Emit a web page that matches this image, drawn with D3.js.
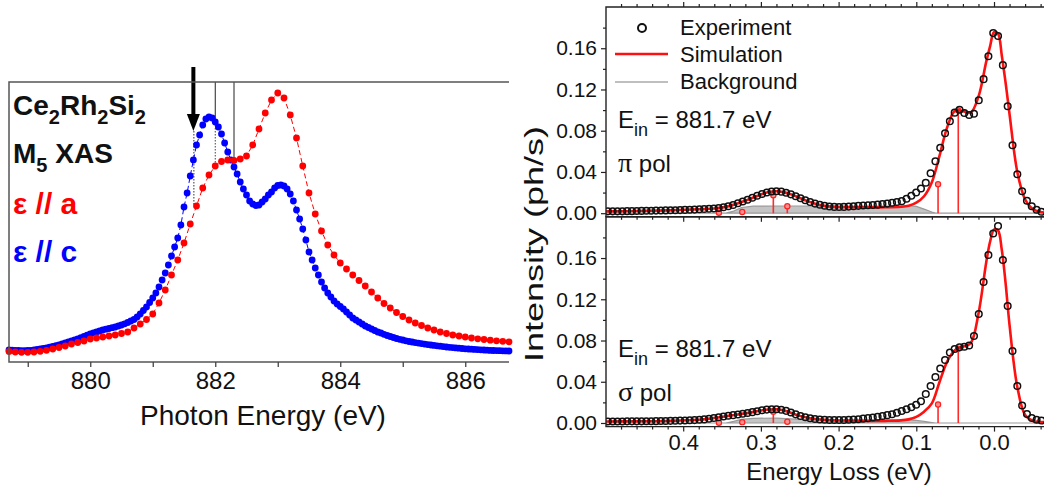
<!DOCTYPE html>
<html><head><meta charset="utf-8">
<script src="https://cdn.jsdelivr.net/npm/d3@7"></script>
<style>body{margin:0;background:#fff}svg{display:block}text{font-family:"Liberation Sans",Arial,sans-serif}</style>
</head><body><svg id="c" width="1044" height="492"></svg>
<script>
// ---------- Left panel: M5 XAS (arb. units) ----------
const xasStart = 878.7;
const blueStep = 0.05, redStep = 0.1;
// epsilon // c  (blue), 878.70 ... 886.70 step 0.05
const xasC = [
 1,0.8,0.6,0.5,0.4,0.4,0.5,0.7,1,1.5, 2,2.5,3,3.8,4.7,5.4,6,7,8,9,
 10,11,12.2,13.4,14.5,15.8,17,18,19,20, 21,21.8,22.5,23.3,24,25,26,27.2,28.5,30,
 31.5,34,37,40.5,44,48.5,53,58,64,71, 78,86,95,104,113,126,144,158,175,191,
 206,216,226,232,234,233,229,224,217,208, 199,191,184,177,169,162,156,150,147,145.5,
 146,149,152,156,159,163,165.5,166,165,162, 157,150,141,132,122,111,99,91,83,76,
 69,63,58,54,50,47,44.5,42,39,36, 33,31,29,27,25,23.5,22,20.5,19,18,
 16.7,15.5,14.5,13.5,12.5,11.7,11,10.2,9.5,9, 8.4,7.9,7.4,6.9,6.4,6,5.6,5.2,4.8,4.4,
 4,3.7,3.4,3.1,2.8,2.5,2.2,2,1.8,1.6, 1.4,1.2,1,0.8,0.6,0.5,0.4,0.3,0.2,0.1,
 0
];
// epsilon // a  (red), 878.7 ... 886.7 step 0.1
const xasA = [
 -0.5,-1,-1.3,-1.3,-1,-0.3,0.7,2,3.5,5,
 7,8.5,10,12,13,14,15,16,17.5,19,
 23,27,31.5,37,48,61,76,91,108,127,
 145,163,176,185,189.5,191,190.5,192,195,206,
 222,238,251,258,253,236,213,185,158,137,
 120,106,96,88,82,76,70.5,65,59,53,
 47.5,43,38.5,34.5,31,28,25.5,23,21,19,
 17.5,16,15,14,13,12.2,11.5,10.8,10.2,9.7,
 9.2
];
const xasMajorTicks = [880, 882, 884, 886];
const xasMinorTicks = [879, 881, 883, 885];
const arrowEnergy = 881.65;
const lineEnergies = [882.0, 882.3];

// ---------- Right panels: RIXS ----------
const expLossStart = 0.497, expLossStep = 0.0062;
const expPi = [
 0.0018,0.0018,0.0018,0.0018,0.0020,0.0020,0.0021,0.0022,0.0023,0.0024,
 0.0025,0.0026,0.0027,0.0028,0.0029,0.0030,0.0032,0.0033,0.0035,0.0038,
 0.0040,0.0043,0.0046,0.0050,0.0057,0.0067,0.0080,0.0096,0.0113,0.0130,
 0.0150,0.0169,0.0186,0.0201,0.0211,0.0213,0.0209,0.0198,0.0183,0.0164,
 0.0145,0.0125,0.0108,0.0093,0.0082,0.0072,0.0065,0.0061,0.0060,0.0061,
 0.0064,0.0067,0.0071,0.0074,0.0077,0.0080,0.0083,0.0089,0.0093,0.0101,
 0.0108,0.0117,0.0140,0.0169,0.0200,0.0239,0.0295,0.0387,0.0504,0.0635,
 0.0776,0.0892,0.0975,0.1004,0.0972,0.0952,0.0965,0.1096,0.1300,0.1523,
 0.1747,0.1718,0.1436,0.1038,0.0659,0.0378,0.0213,0.0120,0.0067,0.0033,
 0.0014
];
const expSigma = [
 0.0015,0.0015,0.0015,0.0015,0.0016,0.0016,0.0016,0.0016,0.0017,0.0017,
 0.0018,0.0019,0.0020,0.0021,0.0022,0.0023,0.0024,0.0026,0.0028,0.0031,
 0.0035,0.0041,0.0048,0.0056,0.0063,0.0070,0.0076,0.0082,0.0089,0.0097,
 0.0105,0.0114,0.0124,0.0130,0.0133,0.0133,0.0129,0.0118,0.0102,0.0084,
 0.0068,0.0055,0.0046,0.0039,0.0034,0.0031,0.0029,0.0029,0.0029,0.0029,
 0.0031,0.0034,0.0037,0.0042,0.0047,0.0053,0.0060,0.0068,0.0076,0.0085,
 0.0100,0.0116,0.0133,0.0153,0.0177,0.0211,0.0281,0.0359,0.0446,0.0529,
 0.0611,0.0684,0.0718,0.0735,0.0740,0.0752,0.0844,0.1057,0.1368,0.1629,
 0.1838,0.1911,0.1581,0.1135,0.0698,0.0359,0.0170,0.0087,0.0048,0.0032,
 0.0024
];
const simLoss = [0.50,0.46,0.42,0.38,0.36,0.34,0.32,0.30,0.29,0.28,0.27,0.26,0.25,0.24,0.23,0.22,0.21,0.20,0.18,0.16,0.14,0.12,0.11,0.10,0.09,0.08,0.07,0.06,0.05,0.04,0.03,0.02,0.01,0.005,0.0,-0.005,-0.01,-0.015,-0.02,-0.03,-0.04,-0.05,-0.06,-0.07];
const simPi = [0.0018,0.0021,0.0027,0.0038,0.0046,0.0071,0.0122,0.0182,0.0205,0.0213,0.0202,0.0180,0.0148,0.0117,0.0092,0.0075,0.0064,0.0060,0.0058,0.0057,0.0057,0.0062,0.0072,0.0102,0.0164,0.0300,0.0560,0.0840,0.0995,0.0990,0.0975,0.1130,0.1470,0.1620,0.1757,0.1745,0.1530,0.1260,0.0960,0.0400,0.0135,0.0040,0.0012,0.0005];
const simSigma = [0.0015,0.0016,0.0020,0.0031,0.0048,0.0072,0.0093,0.0122,0.0131,0.0133,0.0122,0.0095,0.0069,0.0050,0.0038,0.0031,0.0026,0.0024,0.0022,0.0021,0.0021,0.0025,0.0035,0.0060,0.0110,0.0190,0.0400,0.0600,0.0708,0.0742,0.0775,0.1060,0.1560,0.1760,0.1875,0.1870,0.1680,0.1350,0.0950,0.0350,0.0078,0.0020,0.0010,0.0008];
const stickLoss = [0.354,0.324,0.284,0.266,0.072,0.046];
const stickPi = [0.0004,0.0012,0.0174,0.0068,0.0280,0.0997];
const stickSigma = [0.0002,0.0008,0.0110,0.0012,0.0180,0.0720];
const bgLoss = [0.50,0.345,0.335,0.325,0.31,0.28,0.25,0.20,0.15,0.11,0.10,0.09,0.08,0.075,-0.07];
const bgPi = [0,0,0.002,0.0055,0.0068,0.0070,0.0070,0.0068,0.0070,0.0070,0.0066,0.0040,0.0012,0,0];
const bgSigma = [0,0,0.0015,0.0035,0.0045,0.0048,0.0035,0.0028,0.0028,0.0028,0.0025,0.0015,0.0005,0,0];
const yTickVals = [0,0.04,0.08,0.12,0.16];
const yMinorVals = [0.02,0.06,0.10,0.14,0.18];
const xTickVals = [0.4,0.3,0.2,0.1,0.0];
const xMinorVals = [0.48,0.46,0.44,0.42,0.38,0.36,0.34,0.32,0.28,0.26,0.24,0.22,0.18,0.16,0.14,0.12,0.08,0.06,0.04,0.02,-0.02,-0.04,-0.06];

const svg = d3.select('#c');

// ===== Left panel =====
const xL = d3.scaleLinear().domain([878.7, 886.7]).range([9, 509]);
const yL = d3.scaleLinear().domain([-11, 269]).range([362, 82]);
const gL = svg.append('g');
const blueE = xasC.map((v,i)=>xasStart + i*blueStep);
const redE = xasA.map((v,i)=>xasStart + i*redStep);
const blueData = xasC.map((v,i)=>[blueE[i], v]);
const redData = xasA.map((v,i)=>[redE[i], v]);
const lineL = d3.line().x(d=>xL(d[0])).y(d=>yL(d[1]));

const redAt = e => xasA[Math.round((e - xasStart)/redStep)];
const blueAt = e => xasC[Math.round((e - xasStart)/blueStep)];
const ax = xL(arrowEnergy);
gL.append('line').attr('x1',ax).attr('x2',ax).attr('y1',67).attr('y2',118).attr('stroke','#000').attr('stroke-width',4);
gL.append('path').attr('d',`M${ax-6.5},114L${ax+6.5},114L${ax},131Z`).attr('fill','#000');
gL.append('line').attr('x1',ax+0.5).attr('x2',ax+0.5).attr('y1',131).attr('y2',yL(redAt(881.7))).attr('stroke','#333').attr('stroke-width',1).attr('stroke-dasharray','1.5,1.5');
{
  const e = lineEnergies[0];
  gL.append('line').attr('x1',xL(e)).attr('x2',xL(e)).attr('y1',yL.range()[1]).attr('y2',yL(blueAt(e))).attr('stroke','#222').attr('stroke-width',1);
  gL.append('line').attr('x1',xL(e)).attr('x2',xL(e)).attr('y1',yL(blueAt(e))).attr('y2',yL(redAt(e))).attr('stroke','#444').attr('stroke-width',1).attr('stroke-dasharray','1.5,1.5');
  const e2 = lineEnergies[1];
  gL.append('line').attr('x1',xL(e2)).attr('x2',xL(e2)).attr('y1',yL.range()[1]).attr('y2',yL(redAt(e2))).attr('stroke','#222').attr('stroke-width',1);
}

gL.append('path').datum(blueData).attr('d',lineL).attr('fill','none').attr('stroke','#0000ff').attr('stroke-width',1).attr('stroke-dasharray','5,3');
gL.selectAll('circle.b').data(blueData).join('circle').attr('class','b')
  .attr('cx',d=>xL(d[0])).attr('cy',d=>yL(d[1])).attr('r',3.4).attr('fill','#0000ff');
gL.append('path').datum(redData).attr('d',lineL).attr('fill','none').attr('stroke','#ff0000').attr('stroke-width',1).attr('stroke-dasharray','5,3');
gL.selectAll('circle.r').data(redData).join('circle').attr('class','r')
  .attr('cx',d=>xL(d[0])).attr('cy',d=>yL(d[1])).attr('r',3.4).attr('fill','#ff0000');

gL.append('path').attr('d',`M${xL.range()[1]},82H9V362H${xL.range()[1]}`).attr('fill','none').attr('stroke','#555').attr('stroke-width',1.5);
const axL = gL.append('g').attr('transform','translate(0,362)')
  .call(d3.axisBottom(xL).tickValues(xasMajorTicks).tickSize(5).tickPadding(5).tickFormat(d3.format('d')));
axL.select('.domain').remove();
axL.selectAll('line').attr('stroke','#444').attr('stroke-width',1.3);
axL.selectAll('text').attr('font-size',24).attr('fill','#111').style('font-family','"Liberation Sans",Arial,sans-serif');
const axLm = gL.append('g').attr('transform','translate(0,362)')
  .call(d3.axisBottom(xL).tickValues(xasMinorTicks).tickSize(5).tickFormat(''));
axLm.select('.domain').remove();
axLm.selectAll('line').attr('stroke','#444').attr('stroke-width',1.3);
gL.append('text').attr('x',263).attr('y',425).attr('text-anchor','middle').attr('font-size',28).attr('fill','#111').text('Photon Energy (eV)');

function subText(g, x, y, parts, size, sub, color, weight){
  const t = g.append('text').attr('x',x).attr('y',y).attr('font-size',size).attr('fill',color).attr('font-weight',weight);
  parts.forEach(p=>{
    if (p.sub) t.append('tspan').attr('font-size',sub).attr('dy',9).text(p.t);
    else t.append('tspan').attr('dy', p.back ? -9 : 0).text(p.t);
  });
  return t;
}
subText(gL, 13, 115, [{t:'Ce'},{t:'2',sub:1},{t:'Rh',back:1},{t:'2',sub:1},{t:'Si',back:1},{t:'2',sub:1}], 28, 20, '#111', 'bold');
subText(gL, 13, 163, [{t:'M'},{t:'5',sub:1},{t:' XAS',back:1}], 28, 20, '#111', 'bold');
gL.append('text').attr('x',13).attr('y',214).attr('font-size',30).attr('font-weight','bold').attr('fill','#ff0000').text('ε // a');
gL.append('text').attr('x',13).attr('y',262).attr('font-size',30).attr('font-weight','bold').attr('fill','#0000ff').text('ε // c');

// ===== Right panels =====
const xR = d3.scaleLinear().domain([0.5, -0.07]).range([605.5, 1048.4]);
const panels = [
  {exp:expPi, sim:simPi, stick:stickPi, bg:bgPi, y:d3.scaleLinear().domain([-0.0035,0.2]).range([216.8,7]), pol:'π'},
  {exp:expSigma, sim:simSigma, stick:stickSigma, bg:bgSigma, y:d3.scaleLinear().domain([-0.0035,0.2]).range([426.6,216.8]), pol:'σ'}
];
const expLoss = expPi.map((v,i)=>expLossStart - i*expLossStep);
const gR = svg.append('g');
const defs = svg.append('defs');
panels.forEach((p,k)=>{
  const y = p.y;
  const top = y.range()[1], bot = y.range()[0];
  const cid = 'clip'+k;
  defs.append('clipPath').attr('id',cid).append('rect').attr('x',606).attr('y',top).attr('width',450).attr('height',bot-top);
  const g = gR.append('g').attr('clip-path',`url(#${cid})`);
  const bgData = bgLoss.map((l,i)=>[l,p.bg[i]]);
  g.append('path').datum(bgData).attr('d',d3.area().x(d=>xR(d[0])).y0(y(0)).y1(d=>y(d[1])))
    .attr('fill','#c4c4c4').attr('stroke','#9a9a9a').attr('stroke-width',1.2);
  stickLoss.forEach((l,i)=>{
    g.append('line').attr('x1',xR(l)).attr('x2',xR(l)).attr('y1',y(0)).attr('y2',y(p.stick[i])).attr('stroke','#ff2a2a').attr('stroke-width',1.6);
    g.append('circle').attr('cx',xR(l)).attr('cy',y(p.stick[i])).attr('r',2.6).attr('fill','#ff9090').attr('stroke','#ff2020').attr('stroke-width',1.2);
  });
  const simData = simLoss.map((l,i)=>[l,p.sim[i]]);
  g.append('path').datum(simData).attr('d',d3.line().curve(d3.curveCatmullRom.alpha(0.5)).x(d=>xR(d[0])).y(d=>y(d[1])))
    .attr('fill','none').attr('stroke','#ff1010').attr('stroke-width',2.6);
  g.selectAll('circle.e').data(p.exp.map((v,i)=>[expLoss[i],v])).join('circle').attr('class','e')
    .attr('cx',d=>xR(d[0])).attr('cy',d=>y(d[1])).attr('r',3.3).attr('fill','none').attr('stroke','#111').attr('stroke-width',1.5);

  const ya = gR.append('g').attr('transform','translate(606,0)')
    .call(d3.axisLeft(y).tickValues(yTickVals).tickSize(5).tickPadding(4).tickFormat(d3.format('.2f')));
  ya.select('.domain').remove();
  ya.selectAll('text').attr('font-size',21).attr('fill','#111').style('font-family','"Liberation Sans",Arial,sans-serif');
  const yam = gR.append('g').attr('transform','translate(606,0)').call(d3.axisLeft(y).tickValues(yMinorVals).tickSize(3).tickFormat(''));
  yam.select('.domain').remove();
  if (k===0){
    const t1 = gR.append('g').attr('transform',`translate(0,${top})`).call(d3.axisTop(xR).tickValues(xTickVals).tickSize(5).tickFormat(''));
    t1.select('.domain').remove();
    const t2 = gR.append('g').attr('transform',`translate(0,${top})`).call(d3.axisTop(xR).tickValues(xMinorVals).tickSize(3).tickFormat(''));
    t2.select('.domain').remove();
    const t3 = gR.append('g').attr('transform',`translate(0,${bot})`).call(d3.axisBottom(xR).tickValues(xTickVals).tickSize(5).tickFormat(''));
    t3.select('.domain').remove();
    const t4 = gR.append('g').attr('transform',`translate(0,${bot})`).call(d3.axisBottom(xR).tickValues(xMinorVals).tickSize(3).tickFormat(''));
    t4.select('.domain').remove();
  } else {
    const b1 = gR.append('g').attr('transform',`translate(0,${bot})`).call(d3.axisBottom(xR).tickValues(xTickVals).tickSize(5).tickPadding(3).tickFormat(d3.format('.1f')));
    b1.select('.domain').remove();
    b1.selectAll('text').attr('font-size',22).attr('fill','#111').style('font-family','"Liberation Sans",Arial,sans-serif');
    const b2 = gR.append('g').attr('transform',`translate(0,${bot})`).call(d3.axisBottom(xR).tickValues(xMinorVals).tickSize(3).tickFormat(''));
    b2.select('.domain').remove();
  }
  gR.append('path').attr('d',`M1050,${top}H606V${bot}H1050`).attr('fill','none').attr('stroke','#222').attr('stroke-width',1.4);

  const yb = k===0 ? 128 : 357;
  const t = gR.append('text').attr('x',618).attr('y',yb).attr('font-size',24).attr('fill','#111');
  t.append('tspan').text('E');
  t.append('tspan').attr('font-size',18).attr('dy',8).text('in');
  t.append('tspan').attr('dy',-8).text(' = 881.7 eV');
  const tp = gR.append('text').attr('x',618).attr('y',yb+44).attr('font-size',24).attr('fill','#111');
  tp.append('tspan').style('font-family','"Liberation Serif","DejaVu Serif",serif').attr('font-size',28).text(p.pol);
  tp.append('tspan').text(' pol');
});
gR.selectAll('.tick line').attr('stroke','#222').attr('stroke-width',1.2);

gR.append('circle').attr('cx',642).attr('cy',28).attr('r',4).attr('fill','none').attr('stroke','#111').attr('stroke-width',2);
gR.append('line').attr('x1',615).attr('x2',668).attr('y1',54).attr('y2',54).attr('stroke','#ff1010').attr('stroke-width',2.5);
gR.append('line').attr('x1',615).attr('x2',668).attr('y1',82).attr('y2',82).attr('stroke','#aaa').attr('stroke-width',1.5);
[['Experiment',35],['Simulation',62],['Background',89]].forEach(([s,yy])=>{
  gR.append('text').attr('x',680).attr('y',yy).attr('font-size',22).attr('fill','#111').text(s);
});
gR.append('text').attr('x',839).attr('y',480).attr('text-anchor','middle').attr('font-size',24).attr('fill','#111').text('Energy Loss (eV)');
gR.append('text').attr('transform','translate(543,244) rotate(-90)').attr('text-anchor','middle').attr('font-size',25)
  .attr('textLength',236).attr('lengthAdjust','spacingAndGlyphs').attr('fill','#111').text('Intensity (ph/s)');
</script></body></html>
